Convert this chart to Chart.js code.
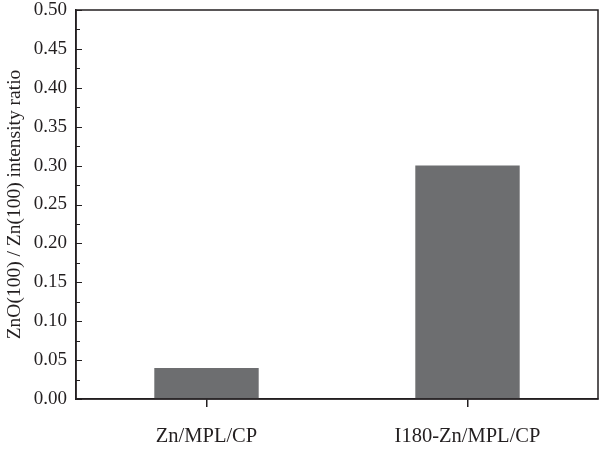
<!DOCTYPE html>
<html>
<head>
<meta charset="utf-8">
<script src="https://cdn.jsdelivr.net/npm/chart.js@4/dist/chart.umd.min.js"></script>
<style>
html,body{margin:0;padding:0;background:#fff;}
#wrap{width:600px;height:449px;}
</style>
</head>
<body>
<div id="wrap"><canvas id="c" width="600" height="449"></canvas></div>
<script>
const categories = ["Zn/MPL/CP", "I180-Zn/MPL/CP"];
const ratioValues = [0.04, 0.30];
const yMin = 0, yMax = 0.5, yStep = 0.05;
const yTitle = "ZnO(100) / Zn(100) intensity ratio";

const axisColor = "#231f20";
const fontFamily = "'Liberation Serif', 'DejaVu Serif', serif";

const frameAndTicks = {
  id: "frameAndTicks",
  afterDatasetsDraw(chart) {
    const ctx = chart.ctx;
    const a = chart.chartArea;
    const y = chart.scales.y;
    ctx.save();
    ctx.strokeStyle = axisColor;
    ctx.lineWidth = 1.5;
    ctx.strokeRect(a.left, a.top, a.right - a.left, a.bottom - a.top);
    ctx.lineWidth = 1;
    for (let v = yMin; v <= yMax + 1e-9; v += yStep / 2) {
      const major = Math.abs(Math.round(v / yStep) * yStep - v) < 1e-9;
      const py = Math.round(y.getPixelForValue(v)) + 0.5;
      ctx.beginPath();
      ctx.moveTo(a.left, py);
      ctx.lineTo(a.left + (major ? 6 : 4), py);
      ctx.stroke();
    }
    ctx.restore();
  }
};

new Chart(document.getElementById("c"), {
  type: "bar",
  data: {
    labels: categories,
    datasets: [{
      data: ratioValues,
      backgroundColor: "#6d6e70",
      borderWidth: 0,
      categoryPercentage: 1.0,
      barPercentage: 0.4
    }]
  },
  options: {
    responsive: false,
    animation: false,
    devicePixelRatio: 1,
    layout: { padding: { left: 0, right: 2, top: 10, bottom: 0 } },
    plugins: { legend: { display: false }, tooltip: { enabled: false } },
    scales: {
      x: {
        offset: true,
        grid: { offset: false, drawOnChartArea: false, drawTicks: true, tickLength: 8, color: axisColor, lineWidth: 1.5 },
        border: { display: true, color: axisColor, width: 1.5 },
        ticks: { color: axisColor, font: { family: fontFamily, size: 20.5 }, padding: 17, maxRotation: 0 },
        afterFit(s) { s.height = 50; s.paddingLeft = 0; s.paddingRight = 0; }
      },
      y: {
        min: yMin, max: yMax,
        grid: { drawOnChartArea: false, drawTicks: false },
        border: { display: true, color: axisColor, width: 1.5 },
        ticks: {
          stepSize: yStep,
          color: axisColor,
          padding: 9,
          font: { family: fontFamily, size: 19 },
          callback: (v) => Number(v).toFixed(2)
        },
        title: {
          display: true,
          text: yTitle,
          color: axisColor,
          font: { family: fontFamily, size: 19.5 },
          padding: { top: 3, bottom: 0 }
        },
        afterFit(s) { s.width = 76; s.paddingTop = 0; s.paddingBottom = 0; }
      }
    }
  },
  plugins: [frameAndTicks]
});
</script>
</body>
</html>
